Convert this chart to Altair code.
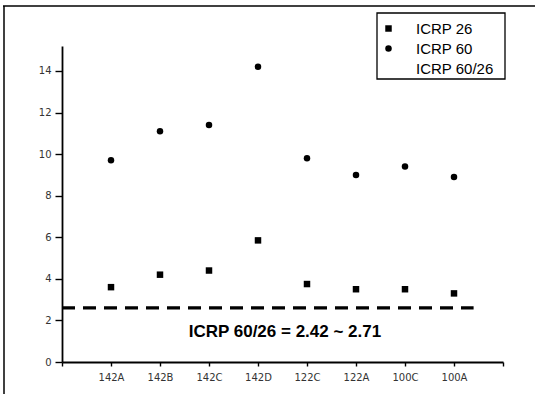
import altair as alt
import pandas as pd

categories = ["142A", "142B", "142C", "142D", "122C", "122A", "100C", "100A"]
icrp26 = [3.6, 4.2, 4.4, 5.85, 3.75, 3.5, 3.5, 3.3]
icrp60 = [9.7, 11.1, 11.4, 14.2, 9.8, 9.0, 9.4, 8.9]
series_names = ["ICRP 26", "ICRP 60", "ICRP 60/26"]
ratio_line_y = [2.6]
ratio_line_x = [0.0]
ratio_line_x2 = [8.4]
annotation = ["ICRP 60/26 = 2.42 ~ 2.71"]
annotation_x = [4.55]
annotation_y = [1.45]

rows = []
for i, c in enumerate(categories):
    rows.append({"pos": i + 1, "cat": c, "value": icrp26[i], "series": series_names[0]})
    rows.append({"pos": i + 1, "cat": c, "value": icrp60[i], "series": series_names[1]})
df = pd.DataFrame(rows)

W, H = 441, 316
PAD_L, PAD_T = 62, 46

xscale = alt.Scale(domain=[0, 9], nice=False, zero=False)
yscale = alt.Scale(domain=[0, 15.2], nice=False)

lab_arr = "[" + ",".join("'%s'" % c for c in categories) + "]"
x_label_expr = f"(datum.value >= 1 && datum.value <= 8 && datum.value % 1 == 0) ? {lab_arr}[datum.value - 1] : ''"

x_axis = alt.Axis(
    title=None, values=[i * 0.5 for i in range(19)], labelExpr=x_label_expr,
    grid=False, domainColor="black", domainWidth=1.8, tickColor="black",
    tickWidth=1.4, tickSize=4, labelFont="DejaVu Sans", labelFontSize=10,
    labelColor="#333", labelPadding=6, labelFlush=False, labelOverlap=False,
)
y_axis = alt.Axis(
    title=None, values=list(range(0, 15)),
    labelExpr="datum.value % 2 == 0 ? datum.value : ''",
    grid=False, domainColor="black", domainWidth=1.8, tickColor="black",
    tickWidth=1.4, tickSize=7, labelFont="DejaVu Sans", labelFontSize=10,
    labelColor="#333", labelPadding=4, labelOverlap=False,
)

points = alt.Chart(df).mark_point(filled=True, opacity=1, color="black", size=42).encode(
    x=alt.X("pos:Q", scale=xscale, axis=x_axis),
    y=alt.Y("value:Q", scale=yscale, axis=y_axis),
    shape=alt.Shape(
        "series:N",
        scale=alt.Scale(domain=series_names, range=["square", "circle", "M0,0"]),
        legend=alt.Legend(
            title=None, orient="none", legendX=319, legendY=-25, padding=0,
            labelFont="Liberation Sans", labelFontSize=15, labelColor="black",
            labelOffset=20, rowPadding=4, symbolFillColor="black",
            symbolStrokeWidth=0, symbolSize=42, symbolOpacity=1,
        ),
    ),
)

line_df = pd.DataFrame({"y": ratio_line_y, "x": ratio_line_x, "x2": ratio_line_x2})
ratio_line = alt.Chart(line_df).mark_rule(
    color="black", strokeWidth=3.2, strokeDash=[13, 8]
).encode(
    x=alt.X("x:Q", scale=xscale), x2="x2:Q", y=alt.Y("y:Q", scale=yscale)
)

text_df = pd.DataFrame({"t": annotation, "x": annotation_x, "y": annotation_y})
ann = alt.Chart(text_df).mark_text(
    font="Liberation Sans", fontSize=17, fontWeight="bold", color="black"
).encode(
    x=alt.X("x:Q", scale=xscale), y=alt.Y("y:Q", scale=yscale), text="t:N"
)

# decorative frame (top and left) and legend box
frame_top = alt.Chart(line_df).mark_rule(color="black", strokeWidth=1.5, clip=False).encode(
    x=alt.value(-PAD_L + 3), x2=alt.value(535 - PAD_L), y=alt.value(6 - PAD_T)
)
frame_left = alt.Chart(line_df).mark_rule(color="black", strokeWidth=1.5, clip=False).encode(
    x=alt.value(4 - PAD_L), y=alt.value(6 - PAD_T), y2=alt.value(394 - PAD_T)
)
legend_box = alt.Chart(line_df).mark_rect(
    filled=False, stroke="black", strokeWidth=1.3, clip=False
).encode(
    x=alt.value(377 - PAD_L), x2=alt.value(505 - PAD_L),
    y=alt.value(13 - PAD_T), y2=alt.value(79 - PAD_T)
)

chart = alt.layer(frame_top, frame_left, legend_box, ratio_line, points, ann).properties(
    width=W, height=H,
    autosize=alt.AutoSizeParams(type="none"),
    padding={"left": PAD_L, "top": PAD_T, "right": 535 - PAD_L - W, "bottom": 394 - PAD_T - H},
    background="white",
).configure_view(strokeWidth=0)

chart.save("out.html", embed_options={"renderer": "svg", "actions": False})
